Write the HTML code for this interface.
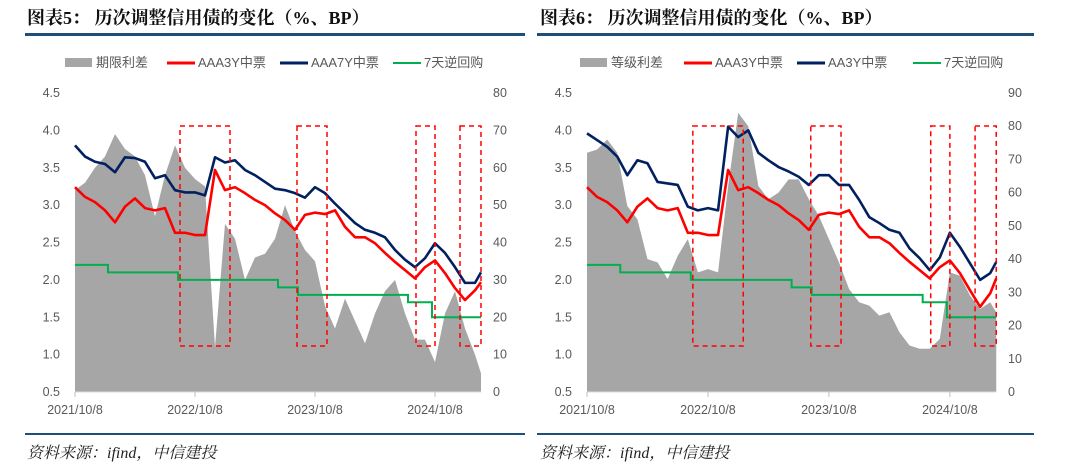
<!DOCTYPE html>
<html><head><meta charset="utf-8"><style>
body{margin:0;background:#fff;}
svg{display:block;font-family:"Liberation Sans","Noto Sans CJK SC",sans-serif;}
</style></head><body>
<svg id="root" width="1080" height="470" viewBox="0 0 1080 470">
<text x="27" y="24" font-size="18" font-weight="bold" fill="#111" font-family="Liberation Serif,Noto Serif CJK SC,serif">图表5：  历次调整信用债的变化（%、BP）</text>
<text x="540" y="24" font-size="18" font-weight="bold" fill="#111" font-family="Liberation Serif,Noto Serif CJK SC,serif">图表6：  历次调整信用债的变化（%、BP）</text>
<rect x="25" y="33" width="500" height="3" fill="#1f4e79"/>
<rect x="537" y="33" width="497" height="3" fill="#1f4e79"/>
<rect x="25" y="433" width="500" height="2" fill="#1f4e79"/>
<rect x="537" y="433" width="497" height="2" fill="#1f4e79"/>
<text x="27" y="458" font-size="16" font-style="italic" fill="#222" font-family="Liberation Serif,Noto Serif CJK SC,serif">资料来源：ifind，中信建投</text>
<text x="540" y="458" font-size="16" font-style="italic" fill="#222" font-family="Liberation Serif,Noto Serif CJK SC,serif">资料来源：ifind，中信建投</text>
<g id="c5"></g><g id="c6"></g>
</svg>
<script>
// ---- shared data ----
const months = [0,1,2,3,4,5,6,7,8,9,10,11,12,13,14,15,16,17,18,19,20,21,22,23,24,25,26,27,28,29,30,31,32,33,34,35,36,37,38,39,40,40.6];
const dateLabels = ["2021/10/8","2022/10/8","2023/10/8","2024/10/8"];
const dateTickMonths = [0,12,24,36];
const leftTicks = [0.5,1.0,1.5,2.0,2.5,3.0,3.5,4.0,4.5];
const repoStepMonths = [0,3.3,10.3,20.3,22.3,33.3,35.7,40.6];
const repoRates = [2.2,2.1,2.0,1.9,1.8,1.7,1.5,1.5];
// chart 5
const termSpread5 = [54,56,60,63,69,65,63,58,47,58,66,60,57,55,12,45,41,30,36,37,41,50,43,38,35,23,17,25,19,13,21,27,30,21,14,14,8,21,27,17,10,5];
const aaa3y5 = [3.24,3.11,3.04,2.93,2.77,2.98,3.09,2.96,2.93,2.96,2.63,2.63,2.6,2.6,3.47,3.2,3.24,3.16,3.07,3.0,2.89,2.8,2.67,2.87,2.9,2.88,2.93,2.71,2.57,2.57,2.49,2.36,2.24,2.13,2.02,2.17,2.26,2.09,1.89,1.73,1.86,1.97];
const aaa7y5 = [3.8,3.65,3.58,3.55,3.44,3.64,3.63,3.58,3.36,3.4,3.2,3.17,3.17,3.13,3.64,3.57,3.6,3.47,3.4,3.31,3.22,3.2,3.16,3.1,3.24,3.16,3.02,2.89,2.76,2.67,2.63,2.57,2.4,2.27,2.17,2.29,2.49,2.36,2.17,1.96,1.96,2.1];
const rightTicks5 = [0,10,20,30,40,50,60,70,80];
const boxes5 = [[10.5,15.5],[22.2,25.2],[34.1,36],[38.5,40.6]];
// chart 6
const gradeSpread6 = [72,73,76,72,56,52,40,39,34,41,46,36,37,36,62,84,80,62,58,60,64,64,58,53,46,39,31,27,26,23,24,18,14,13,13,16,36,35,29,25,27,24];
const aaa3y6 = [3.24,3.11,3.04,2.93,2.77,2.98,3.09,2.96,2.93,2.96,2.63,2.63,2.6,2.6,3.47,3.2,3.24,3.16,3.07,3.0,2.89,2.8,2.67,2.87,2.9,2.88,2.93,2.71,2.57,2.57,2.49,2.36,2.24,2.13,2.02,2.17,2.26,2.09,1.86,1.64,1.82,2.02];
const aa3y6 = [3.96,3.87,3.78,3.65,3.4,3.6,3.56,3.31,3.29,3.27,2.98,2.93,2.96,2.93,4.05,3.91,4.0,3.7,3.6,3.51,3.45,3.38,3.27,3.4,3.4,3.27,3.27,3.07,2.84,2.76,2.67,2.63,2.42,2.29,2.13,2.3,2.63,2.44,2.22,2.0,2.09,2.24];
const rightTicks6 = [0,10,20,30,40,50,60,70,80,90];
const boxes6 = [[10.5,15.5],[22.2,25.2],[34.1,36],[38.5,40.6]];

const NS="http://www.w3.org/2000/svg";
function mk(parent,tag,attrs){const e=document.createElementNS(NS,tag);for(const k in attrs)e.setAttribute(k,attrs[k]);parent.appendChild(e);return e;}

function draw(g,cfg){
  const x=m=>cfg.x0+m*cfg.pxPerMonth;
  const yL=v=>392-(v-0.5)/4*299;
  const yR=v=>392-v/cfg.rMax*299;
  let d="M"+x(months[0])+","+yR(0);
  cfg.spread.forEach((v,i)=>{d+=" L"+x(months[i])+","+yR(v);});
  d+=" L"+x(months[months.length-1])+","+yR(0)+" Z";
  const a=mk(g,"path",{d:d,fill:"#a6a6a6"});
  
  
  const ax=mk(g,"line",{x1:x(0),x2:x(40.6),y1:392,y2:392,stroke:"#d9d9d9","stroke-width":1});
  
  
  dateTickMonths.forEach((m,i)=>{
    const t=mk(g,"line",{x1:x(m),x2:x(m),y1:392,y2:397,stroke:"#bfbfbf"});
    
    
    const l=mk(g,"text",{x:x(m),y:414,"text-anchor":"middle","font-size":12.5,fill:"#595959"});
    l.textContent=dateLabels[i];
    
    
  });
  leftTicks.forEach(v=>{
    const l=mk(g,"text",{x:cfg.lx,y:yL(v)+4,"text-anchor":"end","font-size":12.5,fill:"#595959"});
    l.textContent=v.toFixed(1);
    
    
  });
  cfg.rTicks.forEach(v=>{
    const l=mk(g,"text",{x:cfg.rx,y:yR(v)+4,"text-anchor":"start","font-size":12.5,fill:"#595959"});
    l.textContent=v;
    
    
  });
  let s="";
  for(let i=0;i<repoStepMonths.length-1;i++){
    s+=(i?" L":"M")+x(repoStepMonths[i])+","+yL(repoRates[i])+" L"+x(repoStepMonths[i+1])+","+yL(repoRates[i]);
  }
  const gr=mk(g,"path",{d:s,fill:"none",stroke:"#00b050","stroke-width":2});
  
  
  const line=(vals,col,name)=>{
    const p=mk(g,"path",{d:vals.map((v,i)=>(i?"L":"M")+x(months[i])+","+yL(v)).join(" "),fill:"none",stroke:col,"stroke-width":2.6,"stroke-linejoin":"round"});
    
    
  };
  line(cfg.red,"#ff0000",cfg.p+'-aaa3y-line');
  line(cfg.navy,"#002060",cfg.p+'-navy-line');
  cfg.boxes.forEach(b=>{
    const r=mk(g,"rect",{x:x(b[0]),y:126,width:x(b[1])-x(b[0]),height:220,fill:"none",stroke:"#ff0000","stroke-width":1.5,"stroke-dasharray":"5,4"});
    
    
  });
  const lg=cfg.leg;
  const items=[["rect","#a6a6a6",cfg.names[0]],["line","#ff0000",cfg.names[1]],["line","#002060",cfg.names[2]],["line","#00b050",cfg.names[3]]];
  items.forEach((it,i)=>{
    const lx=lg[i];
    if(it[0]==="rect"){const r=mk(g,"rect",{x:lx,y:58,width:27,height:9,fill:it[1]});
      
      }
    else{const r=mk(g,"line",{x1:lx,x2:lx+28,y1:63,y2:63,stroke:it[1],"stroke-width":it[1]==="#00b050"?2:3});
      
      }
    const t=mk(g,"text",{x:lx+31,y:67,"font-size":13,fill:"#595959"});
    t.textContent=it[2];
    
    
  });
}
draw(document.getElementById("c5"),{p:"chart5",x0:75,pxPerMonth:10,rMax:80,spread:termSpread5,red:aaa3y5,navy:aaa7y5,rTicks:rightTicks5,boxes:boxes5,lx:60,rx:493,leg:[65,167,280,393],names:["期限利差","AAA3Y中票","AAA7Y中票","7天逆回购"]});
draw(document.getElementById("c6"),{p:"chart6",x0:587,pxPerMonth:10.08,rMax:90,spread:gradeSpread6,red:aaa3y6,navy:aa3y6,rTicks:rightTicks6,boxes:boxes6,lx:572,rx:1008,leg:[580,684,797,913],names:["等级利差","AAA3Y中票","AA3Y中票","7天逆回购"]});
</script>
</body></html>
